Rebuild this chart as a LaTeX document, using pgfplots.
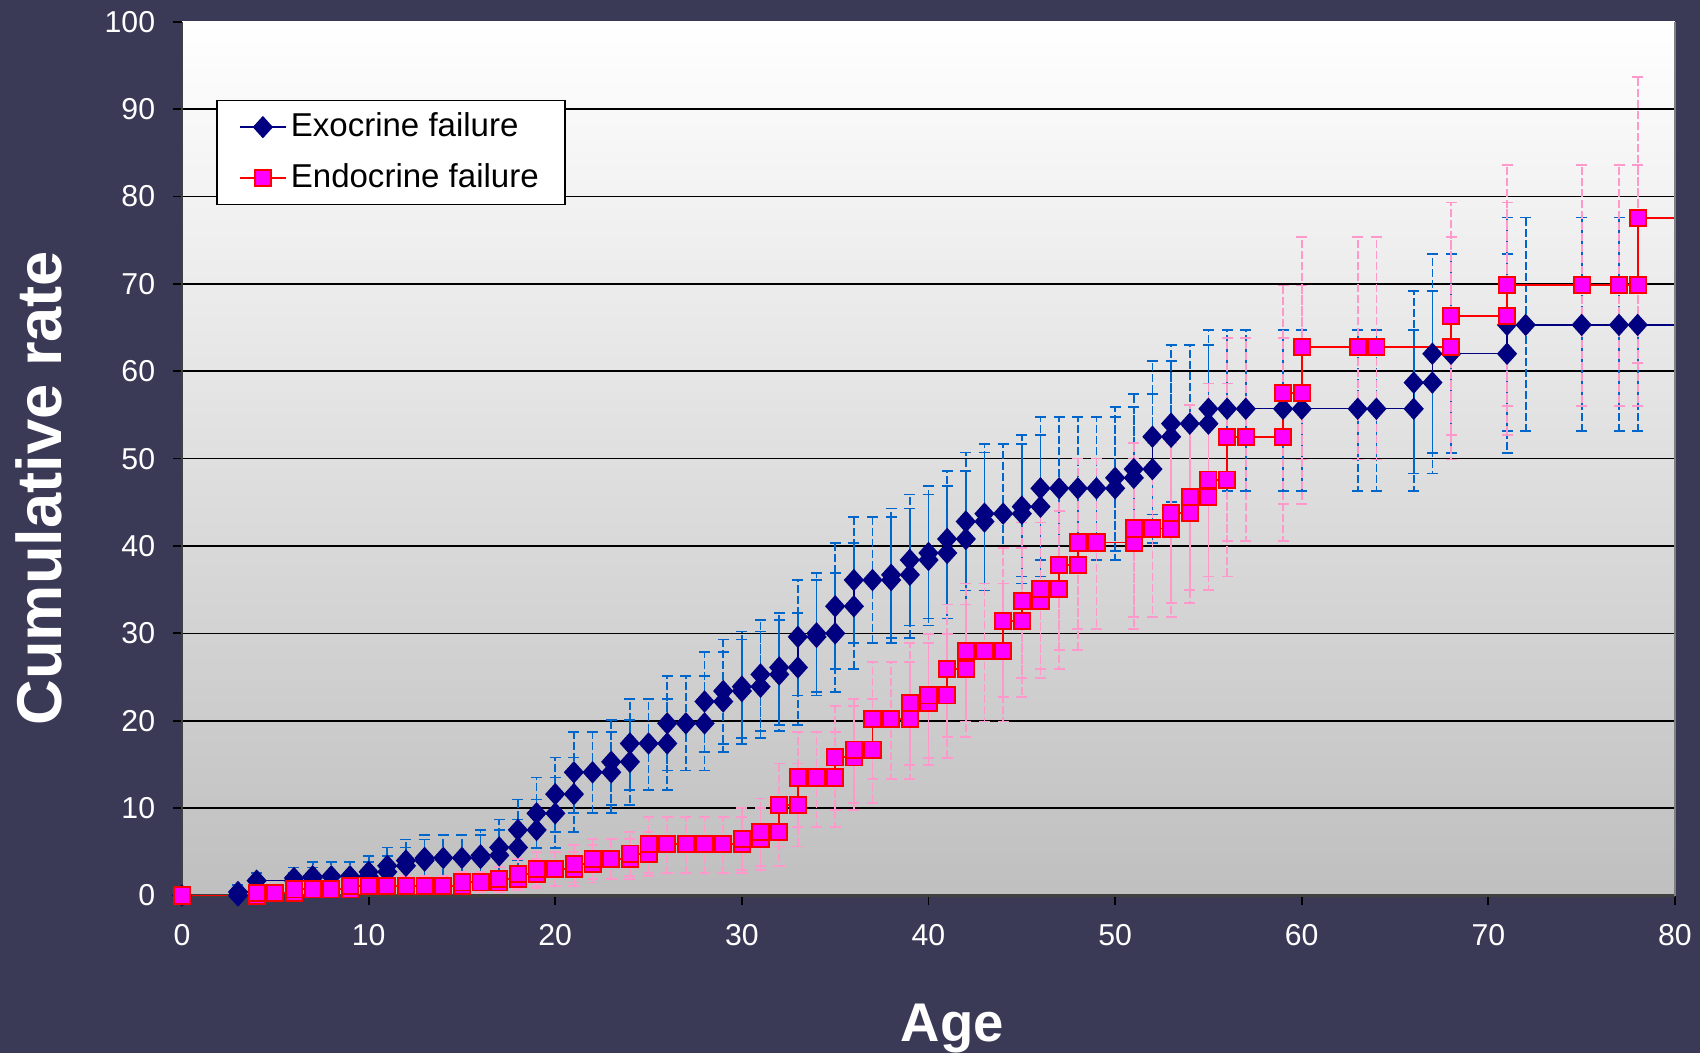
\documentclass[border=0pt]{standalone}
\usepackage{fontspec}
\setmainfont{Liberation Sans}
\usepackage{pgfplots}
\usepackage{pgfplotstable}
\pgfplotsset{compat=1.18}

\definecolor{bgc}{RGB}{58,57,86}
\definecolor{navy}{RGB}{0,0,128}
\definecolor{blueerr}{RGB}{0,102,204}
\definecolor{pinkerr}{RGB}{255,153,204}
\definecolor{magenta}{RGB}{255,0,255}

% exocrine failure: age, rate, lower and upper bound
\pgfplotstableread{
x y lo hi
0 0 0 0
3 0 0 0
3 0.4 0 1.2
4 0.4 0 1.2
4 1.7 0.6 2.6
6 1.7 0.6 2.6
6 2.0 0.8 3.2
7 2.0 0.8 3.2
7 2.2 1.0 3.8
8 2.2 1.0 3.8
9 2.2 1.0 3.8
10 2.2 1.0 3.8
10 2.7 1.3 4.5
11 2.7 1.3 4.5
11 3.4 1.7 5.5
12 3.4 1.7 5.5
12 4.0 2.0 6.4
13 4.0 2.0 6.4
13 4.3 2.2 6.9
14 4.3 2.2 6.9
15 4.3 2.2 6.9
16 4.3 2.2 6.9
16 4.6 2.4 7.5
17 4.6 2.4 7.5
17 5.5 2.8 8.7
18 5.5 2.8 8.7
18 7.5 4.1 11.0
19 7.5 4.1 11.0
19 9.4 5.4 13.5
20 9.4 5.4 13.5
20 11.6 7.3 15.8
21 11.6 7.3 15.8
21 14.1 9.4 18.7
22 14.1 9.4 18.7
23 14.1 9.4 18.7
23 15.3 10.4 20.1
24 15.3 10.4 20.1
24 17.4 12.1 22.5
25 17.4 12.1 22.5
26 17.4 12.1 22.5
26 19.7 14.3 25.1
27 19.7 14.3 25.1
28 19.7 14.3 25.1
28 22.2 16.4 27.9
29 22.2 16.4 27.9
29 23.4 17.3 29.3
30 23.4 17.3 29.3
30 23.9 18.0 30.2
31 23.9 18.0 30.2
31 25.3 18.8 31.5
32 25.3 18.8 31.5
32 26.1 19.5 32.3
33 26.1 19.5 32.3
33 29.6 22.9 36.1
34 29.6 22.9 36.1
34 30.0 23.3 36.9
35 30.0 23.3 36.9
35 33.1 25.9 40.3
36 33.1 25.9 40.3
36 36.1 28.9 43.3
37 36.1 28.9 43.3
38 36.1 28.9 43.3
38 36.7 29.5 44.3
39 36.7 29.5 44.3
39 38.4 30.9 45.9
40 38.4 30.9 45.9
40 39.2 31.7 46.9
41 39.2 31.7 46.9
41 40.8 33.3 48.6
42 40.8 33.3 48.6
42 42.8 34.9 50.7
43 42.8 34.9 50.7
43 43.7 35.7 51.7
44 43.7 35.7 51.7
45 43.7 35.7 51.7
45 44.5 36.5 52.7
46 44.5 36.5 52.7
46 46.6 38.4 54.8
47 46.6 38.4 54.8
48 46.6 38.4 54.8
49 46.6 38.4 54.8
50 46.6 38.4 54.8
50 47.8 39.4 55.9
51 47.8 39.4 55.9
51 48.8 40.3 57.4
52 48.8 40.3 57.4
52 52.5 43.6 61.2
53 52.5 43.6 61.2
53 54.0 45.0 63.0
54 54.0 45.0 63.0
55 54.0 45.0 63.0
55 55.7 46.3 64.7
56 55.7 46.3 64.7
57 55.7 46.3 64.7
59 55.7 46.3 64.7
60 55.7 46.3 64.7
63 55.7 46.3 64.7
64 55.7 46.3 64.7
66 55.7 46.3 64.7
66 58.7 48.3 69.2
67 58.7 48.3 69.2
67 62.0 50.6 73.4
68 62.0 50.6 73.4
71 62.0 50.6 73.4
71 65.3 53.2 77.6
72 65.3 53.2 77.6
75 65.3 53.2 77.6
77 65.3 53.2 77.6
78 65.3 53.2 77.6
}\exo

% endocrine failure
\pgfplotstableread{
x y lo hi
0 0 0 0
4 0 0 0
4 0.3 0 0.9
5 0.3 0 0.9
6 0.3 0 0.9
6 0.7 0.1 1.6
7 0.7 0.1 1.6
8 0.7 0.1 1.6
9 0.7 0.1 1.6
9 1.1 0.3 2.2
10 1.1 0.3 2.2
11 1.1 0.3 2.2
12 1.1 0.3 2.2
13 1.1 0.3 2.2
14 1.1 0.3 2.2
15 1.1 0.3 2.2
15 1.5 0.4 2.7
16 1.5 0.4 2.7
17 1.5 0.4 2.7
17 1.9 0.6 3.3
18 1.9 0.6 3.3
18 2.5 0.9 4.2
19 2.5 0.9 4.2
19 3.0 1.1 5.0
20 3.0 1.1 5.0
21 3.0 1.1 5.0
21 3.6 1.5 5.8
22 3.6 1.5 5.8
22 4.2 1.9 6.5
23 4.2 1.9 6.5
24 4.2 1.9 6.5
24 4.8 2.2 7.3
25 4.8 2.2 7.3
25 5.9 2.6 9.0
26 5.9 2.6 9.0
27 5.9 2.6 9.0
28 5.9 2.6 9.0
29 5.9 2.6 9.0
30 5.9 2.6 9.0
30 6.5 2.9 10.0
31 6.5 2.9 10.0
31 7.3 3.4 11.1
32 7.3 3.4 11.1
32 10.4 5.6 15.1
33 10.4 5.6 15.1
33 13.5 7.8 18.7
34 13.5 7.8 18.7
35 13.5 7.8 18.7
35 15.8 9.8 21.7
36 15.8 9.8 21.7
36 16.7 10.6 22.5
37 16.7 10.6 22.5
37 20.2 13.3 26.7
38 20.2 13.3 26.7
39 20.2 13.3 26.7
39 22.0 14.9 28.9
40 22.0 14.9 28.9
40 22.9 15.7 29.9
41 22.9 15.7 29.9
41 25.9 18.1 33.3
42 25.9 18.1 33.3
42 28.0 19.9 35.7
43 28.0 19.9 35.7
44 28.0 19.9 35.7
44 31.4 22.7 39.8
45 31.4 22.7 39.8
45 33.7 24.9 42.7
46 33.7 24.9 42.7
46 35.1 25.9 44.0
47 35.1 25.9 44.0
47 37.8 28.1 47.0
48 37.8 28.1 47.0
48 40.4 30.5 50.0
49 40.4 30.5 50.0
51 40.4 30.5 50.0
51 42.0 31.9 51.8
52 42.0 31.9 51.8
53 42.0 31.9 51.8
53 43.8 33.5 54.0
54 43.8 33.5 54.0
54 45.6 35.0 56.1
55 45.6 35.0 56.1
55 47.6 36.5 58.6
56 47.6 36.5 58.6
56 52.5 40.6 63.8
57 52.5 40.6 63.8
59 52.5 40.6 63.8
59 57.5 44.8 69.8
60 57.5 44.8 69.8
60 62.8 49.9 75.4
63 62.8 49.9 75.4
64 62.8 49.9 75.4
68 62.8 49.9 75.4
68 66.3 52.7 79.3
71 66.3 52.7 79.3
71 69.9 56.0 83.6
75 69.9 56.0 83.6
77 69.9 56.0 83.6
78 69.9 56.0 83.6
78 77.5 60.9 93.7
}\endo

\begin{document}
\begin{tikzpicture}
\fill[bgc] (0,0) rectangle (170mm,105.3mm);
\begin{axis}[
    at={(18.2mm,15.75mm)}, anchor=south west,
    scale only axis, width=149.3mm, height=87.38mm,
    xmin=0, xmax=80, ymin=0, ymax=100,
    xtick={0,10,...,80}, ytick={0,10,...,90},
    extra y ticks={100}, extra y tick style={grid=none},
    axis y line*=left, axis x line*=bottom,
    axis line style={black!75, line width=0.6pt},
    ymajorgrids, grid style={black, line width=0.45pt},
    tick align=outside, major tick length=0.9mm,
    tick style={black, line width=0.5pt},
    ticklabel style={font=\fontsize{8.6}{10}\selectfont, text=white},
    xticklabel style={yshift=-0.75mm},
    yticklabel style={xshift=-0.55mm},
    /pgf/number format/assume math mode=true,
    axis background/.style={top color=white, bottom color=black!25},
    clip=false,
    xlabel={Age}, ylabel={Cumulative rate},
    xlabel style={at={(axis description cs:0.516,-0.152)}, anchor=center,
        font=\bfseries\fontsize{15.5}{18}\selectfont, text=white},
    ylabel style={at={(axis description cs:-0.096,0.4662)}, anchor=center,
        font=\bfseries\fontsize{18}{21}\selectfont, text=white},
    legend image code/.code={
        \draw[mark repeat=2, mark phase=2, #1]
            plot coordinates {(0mm,0mm) (2.3mm,0mm) (4.6mm,0mm)};},
    legend style={at={(axis description cs:0.0228,0.9108)}, anchor=north west,
        draw=black, line width=0.5pt, fill=white,
        font=\fontsize{9.4}{11}\selectfont, text=black,
        inner xsep=2.2mm, inner ysep=0.8mm, row sep=1.35mm,
        nodes={inner sep=0.4mm}},
    legend cell align=left,
]
\addlegendimage{navy, line width=0.4pt, mark=diamond*, mark size=2.9pt,
    mark options={fill=navy, draw=navy, solid, xscale=1.2}}
\addlegendimage{red, line width=0.55pt, mark=square*, mark size=2.3pt,
    mark options={fill=magenta, draw=red, solid}}
\legend{Exocrine failure, Endocrine failure}

% confidence intervals
\addplot[draw=none, forget plot, error bars/.cd, y dir=both, y explicit,
    error bar style={draw=blueerr, line width=0.5pt, dash pattern=on 0.8mm off 0.3mm},
    error mark options={draw=blueerr, solid, rotate=90, mark size=0.55mm, line width=0.5pt}]
    table[x=x, y=y, y error plus expr=\thisrow{hi}-\thisrow{y},
          y error minus expr=\thisrow{y}-\thisrow{lo}] {\exo};
\addplot[draw=none, forget plot, error bars/.cd, y dir=both, y explicit,
    error bar style={draw=pinkerr, line width=0.5pt, dash pattern=on 0.8mm off 0.3mm},
    error mark options={draw=pinkerr, solid, rotate=90, mark size=0.55mm, line width=0.5pt}]
    table[x=x, y=y, y error plus expr=\thisrow{hi}-\thisrow{y},
          y error minus expr=\thisrow{y}-\thisrow{lo}] {\endo};

% step lines
\addplot[navy, line width=0.4pt, mark=none, forget plot] table[x=x, y=y] {\exo};
\addplot[navy, line width=0.4pt, mark=none, forget plot] coordinates {(78,65.3) (80,65.3)};
\addplot[red, line width=0.55pt, mark=none, forget plot] table[x=x, y=y] {\endo};
\addplot[red, line width=0.55pt, mark=none, forget plot] coordinates {(78,77.5) (80,77.5)};

% markers
\addplot[only marks, mark=diamond*, mark size=2.9pt, forget plot,
    mark options={fill=navy, draw=navy, xscale=1.2}] table[x=x, y=y] {\exo};
\addplot[only marks, mark=square*, mark size=2.3pt, forget plot,
    mark options={fill=magenta, draw=red, line width=0.55pt}] table[x=x, y=y] {\endo};

\draw[gray, line width=0.6pt] (rel axis cs:1,0) -- (rel axis cs:1,1);
\end{axis}
\pgfresetboundingbox
\useasboundingbox (0,0) rectangle (170mm,105.3mm);
\end{tikzpicture}
\end{document}
